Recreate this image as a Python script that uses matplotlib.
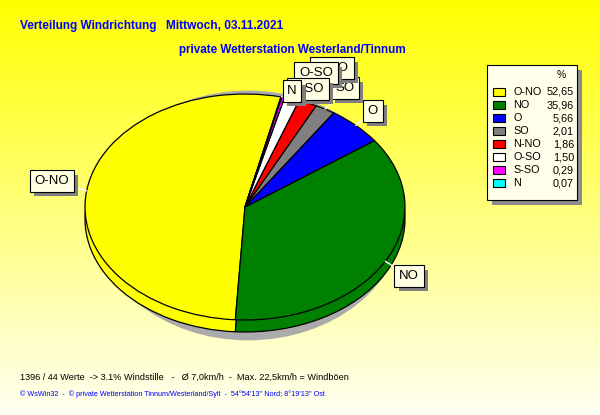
import numpy as np
import matplotlib
matplotlib.use("Agg")
import matplotlib.pyplot as plt
from matplotlib.patches import Ellipse, Rectangle
import matplotlib.patheffects as pe

# ---------------- data ----------------
directions = ["O-NO", "NO", "O", "SO", "N-NO", "O-SO", "S-SO", "N"]
percent = [52.65, 35.96, 5.66, 2.01, 1.86, 1.50, 0.29, 0.07]
colors = ["#ffff00", "#008000", "#0000ff", "#808080", "#ff0000", "#ffffff", "#ff00ff", "#00ffff"]
title1 = "Verteilung Windrichtung"
title_date = "Mittwoch, 03.11.2021"
title2 = "private Wetterstation Westerland/Tinnum"
info_line = "1396 / 44 Werte  -> 3.1% Windstille   -   \u00d8 7,0km/h  -  Max. 22,5km/h = Windb\u00f6en"
footer = "\u00a9 WsWin32  -  \u00a9 private Wetterstation Tinnum/Westerland/Sylt  -  54\u00b054'13'' Nord; 8\u00b019'13'' Ost"

# ---------------- layout (pixels) ----------------
W, H = 600, 415
FONT = "Liberation Sans"
label_pos = {  # label box centres
    "O-NO": (52, 181), "NO": (409, 276), "O": (373, 111), "SO": (345, 88),
    "N-NO": (332, 68), "O-SO": (316, 73), "S-SO": (308, 89), "N": (292, 91),
}
cx, cy, ra, rb = 245, 207, 160, 113
depth = 12 / rb
xl, yl_lo, yl_hi = 1.1, -1.35, 1.1

fig = plt.figure(figsize=(W / 100, H / 100), dpi=100)

# background gradient
bg = fig.add_axes([0, 0, 1, 1])
n = 256
blue = np.linspace(0.0, 0.95, n)
img = np.ones((n, 2, 3))
img[:, :, 2] = blue[:, None]
bg.imshow(img, aspect="auto", extent=(0, 1, 0, 1), interpolation="bilinear")
bg.axis("off")

# pie axes (squashed to an ellipse)
left_px = cx - xl * ra
top_px = cy - yl_hi * rb
bot_px = cy - yl_lo * rb
ax = fig.add_axes([left_px / W, (H - bot_px) / H, 2 * xl * ra / W, (bot_px - top_px) / H])
ax.patch.set_alpha(0)

ax.add_patch(Ellipse((0.02, -0.075), 1.94, 2.21, fc="#ababab", ec="none", zorder=0))
wp = dict(edgecolor="black", linewidth=0.9)
ax.pie(percent, colors=colors, startangle=77, counterclock=True, radius=1,
       center=(0, -depth), wedgeprops=wp, frame=False)
wedges, _ = ax.pie(percent, colors=colors, startangle=77, counterclock=True, radius=1,
                   center=(0, 0), wedgeprops=wp, frame=False)
ax.set_aspect("auto")
ax.set_xlim(-xl, xl)
ax.set_ylim(yl_lo, yl_hi)
ax.axis("off")

shadow = [pe.withSimplePatchShadow(offset=(3, -3), shadow_rgbFace="#808080", alpha=1.0)]
for name, w in zip(directions, wedges):
    t = np.deg2rad((w.theta1 + w.theta2) / 2)
    px, py = label_pos[name]
    ax.annotate(name, xy=(np.cos(t), np.sin(t)), xycoords="data",
                xytext=(px, H - py), textcoords="figure pixels",
                ha="center", va="center", fontsize=9.5, family=FONT, color="black",
                bbox=dict(boxstyle="square,pad=0.35", fc="#ffffe4", ec="black", lw=0.8,
                          path_effects=shadow),
                arrowprops=dict(arrowstyle="-", color="white", lw=1, shrinkA=0, shrinkB=0),
                annotation_clip=False)

# overlay axes in pixel coordinates
ov = fig.add_axes([0, 0, 1, 1])
ov.set_xlim(0, W)
ov.set_ylim(H, 0)
ov.axis("off")

# legend
ov.add_patch(Rectangle((492, 70), 90, 135, fc="#8c8c8c", ec="none"))
ov.add_patch(Rectangle((487, 65), 90, 135, fc="#ffffea", ec="black", lw=0.8))
ov.text(561, 75, "%", ha="center", va="center", fontsize=7.5, family=FONT)
for i, (name, val, c) in enumerate(zip(directions, percent, colors)):
    y = 92 + 13 * i
    ov.add_patch(Rectangle((493, y - 4), 12, 8, fc=c, ec="black", lw=0.8))
    ov.text(513, y, name, ha="left", va="center", fontsize=7.8, family=FONT)
    ov.text(574, y, f"{val:.2f}".replace(".", ","), ha="right", va="center",
            fontsize=7.8, family=FONT)

# titles and notes
ov.text(20, 26, title1, ha="left", va="center", fontsize=8.5, fontweight="bold",
        color="#0000ff", family=FONT)
ov.text(166, 26, title_date, ha="left", va="center", fontsize=8.6, fontweight="bold",
        color="#0000ff", family=FONT)
ov.text(179, 50, title2, ha="left", va="center", fontsize=8.4, fontweight="bold",
        color="#0000ff", family=FONT)
ov.text(20, 377, info_line, ha="left", va="center", fontsize=6.6, color="black", family=FONT)
ov.text(20, 394, footer, ha="left", va="center", fontsize=5.2, color="#0000ff", family=FONT)

fig.savefig("out.png", dpi=100)
